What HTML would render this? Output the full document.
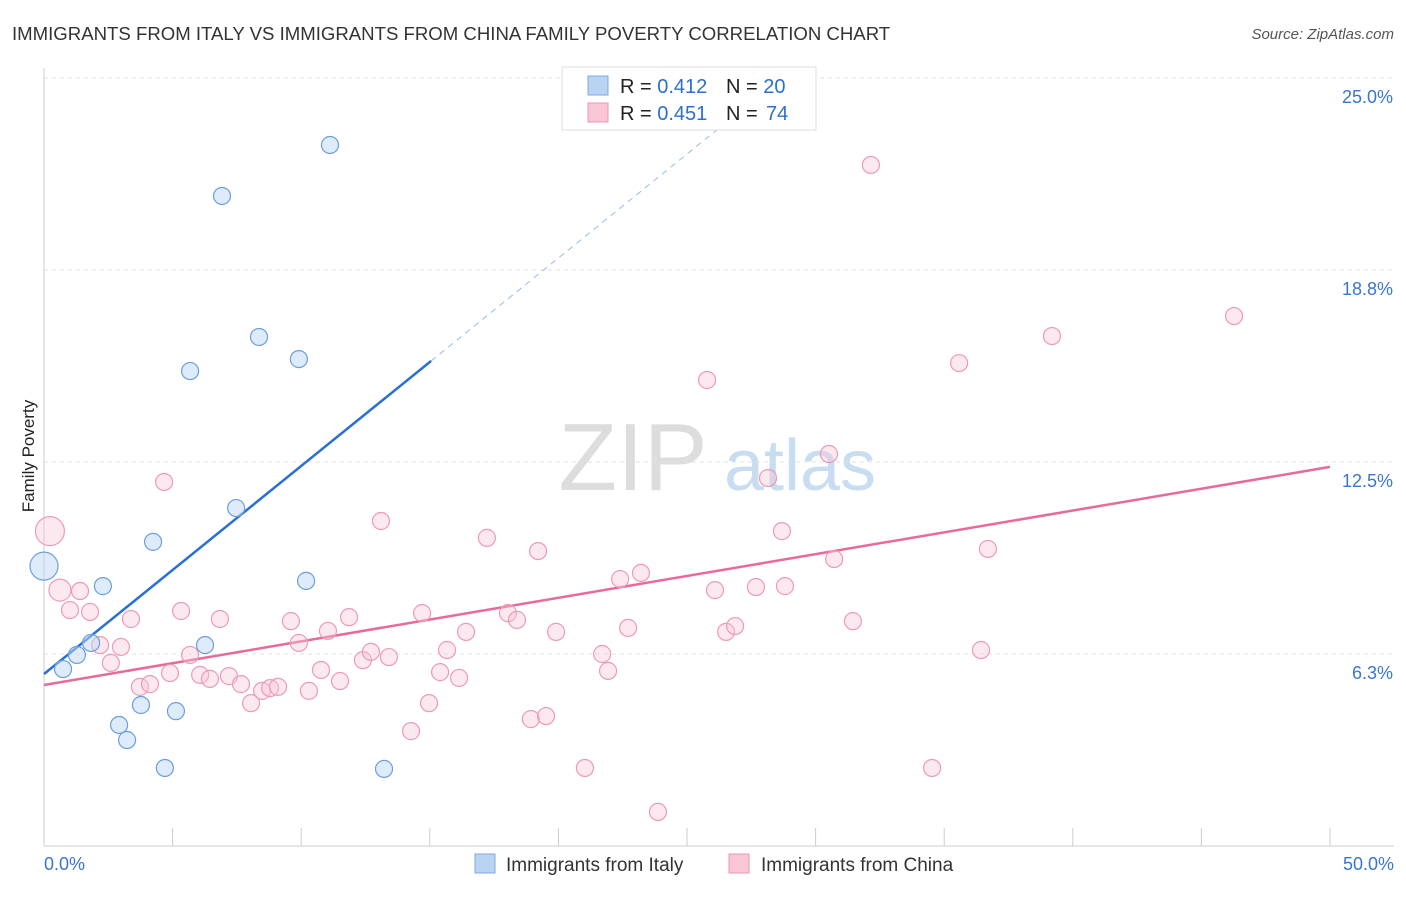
<!DOCTYPE html>
<html><head><meta charset="utf-8"><style>
body{margin:0;background:#fff;font-family:"Liberation Sans",sans-serif;}
svg text{font-family:"Liberation Sans",sans-serif;}
</style></head><body>
<svg id="chart" width="1406" height="892" viewBox="0 0 1406 892" xmlns="http://www.w3.org/2000/svg">
<text x="12" y="40" font-size="18.6" fill="#333">IMMIGRANTS FROM ITALY VS IMMIGRANTS FROM CHINA FAMILY POVERTY CORRELATION CHART</text>
<text x="1394" y="39" font-size="15" fill="#555" text-anchor="end" font-style="italic">Source: ZipAtlas.com</text>
<text x="34" y="456" font-size="17" fill="#222" text-anchor="middle" transform="rotate(-90 34 456)">Family Poverty</text>
<g><text x="633" y="490" font-size="96" fill="#ddd" text-anchor="middle" font-family="Liberation Serif,serif">ZIP</text><text x="800" y="490" font-size="72" fill="#c8dcf2" text-anchor="middle">atlas</text></g>
<g id="grid"></g><g id="axes"></g><g id="trends"></g><g id="pts"></g>
<g>
<rect x="562" y="67" width="254" height="63" fill="#fff" stroke="#ddd"/>
<rect x="588" y="76" width="20" height="19" fill="#b9d3f3" stroke="#7ea9e0"/>
<rect x="588" y="103" width="20" height="19" fill="#f8c6d5" stroke="#ee96b1"/>
<text y="93" font-size="20" fill="#222"><tspan x="620">R = </tspan><tspan fill="#2c6fd1">0.412</tspan><tspan x="726">N = </tspan><tspan fill="#2c6fd1">20</tspan></text>
<text y="120" font-size="20" fill="#222"><tspan x="620">R = </tspan><tspan fill="#2c6fd1">0.451</tspan><tspan x="726">N = </tspan><tspan x="766" fill="#2c6fd1">74</tspan></text>
</g>
<g>
<rect x="475" y="854" width="20" height="19" fill="#b9d3f3" stroke="#7ea9e0"/>
<text x="506" y="871" font-size="19" fill="#333">Immigrants from Italy</text>
<rect x="729" y="854" width="20" height="19" fill="#f8c6d5" stroke="#ee96b1"/>
<text x="761" y="871" font-size="19" fill="#333">Immigrants from China</text>
</g>
</svg>
<script>
const yTicks=[6.25,12.5,18.75,25];
const yTickLabels=["6.3%","12.5%","18.8%","25.0%"];
const xTickLabels=["0.0%","50.0%"];
const italyX=[0,0.74,1.28,1.83,2.29,2.92,3.23,3.77,4.24,4.70,5.13,5.68,6.26,6.92,7.47,8.36,9.91,10.19,11.12,13.22];
const italyY=[9.11,5.76,6.22,6.61,8.46,3.94,3.45,4.59,9.90,2.54,4.39,15.46,6.54,21.16,11.00,16.57,15.85,8.63,22.82,2.51];
const chinaX=[0.23,0.62,1.01,1.40,1.79,2.18,2.60,2.99,3.38,3.73,4.12,4.67,4.90,5.33,5.68,6.07,6.45,6.84,7.19,7.66,8.05,8.48,8.79,9.10,9.60,9.91,10.30,10.77,11.04,11.51,11.86,12.40,12.71,13.41,13.10,14.27,14.70,14.97,15.40,15.67,16.14,16.41,17.22,18.04,18.39,18.93,19.21,19.52,19.91,21.03,21.70,21.93,22.40,22.71,23.21,23.87,25.78,26.09,26.52,26.87,27.68,28.15,28.69,28.81,30.52,30.72,31.45,32.15,34.53,35.58,36.43,36.70,39.19,46.27];
const chinaY=[10.25,8.33,7.68,8.30,7.62,6.54,5.96,6.48,7.39,5.18,5.27,11.85,5.63,7.65,6.22,5.57,5.44,7.39,5.53,5.27,4.65,5.05,5.14,5.18,7.32,6.61,5.05,5.73,7.00,5.37,7.45,6.05,6.32,6.15,10.58,3.74,7.58,4.65,5.66,6.38,5.47,6.97,10.03,7.58,7.36,4.13,9.60,4.23,6.97,2.54,6.25,5.70,8.69,7.10,8.89,1.11,15.17,8.33,6.97,7.16,8.43,11.98,10.25,8.46,12.76,9.34,7.32,22.17,2.54,15.72,6.38,9.67,16.60,17.25];
const italyTrend=[5.60,0.677];
const chinaTrend=[5.24,0.142];
const NS="http://www.w3.org/2000/svg";
const X=v=>44+v*25.72, Y=v=>846-v*30.72;
function mk(tag,attrs,parent){const e=document.createElementNS(NS,tag);for(const k in attrs)e.setAttribute(k,attrs[k]);document.getElementById(parent).appendChild(e);return e;}
yTicks.forEach((t,i)=>{
 const g=mk('line',{x1:44,x2:1394,y1:Y(t),y2:Y(t),stroke:'#e2e2e2','stroke-dasharray':'4,4'},'grid');
 
 
 const l=mk('text',{x:1393,y:Y(t)+25,'font-size':18,fill:'#3a75d0','text-anchor':'end'},'grid');
 l.textContent=yTickLabels[i];
 
 
});
const ax=mk('line',{x1:44,x2:1394,y1:846,y2:846,stroke:'#ccc'},'axes');


const ay=mk('line',{x1:44,x2:44,y1:68,y2:846,stroke:'#ccc'},'axes');


for(let i=0;i<=10;i++){const t=mk('line',{x1:X(i*5),x2:X(i*5),y1:828,y2:846,stroke:'#ccc'},'axes');
 
 }
[[0,'start',44],[50,'end',1394]].forEach((d,i)=>{const t=mk('text',{x:d[2],y:870,'font-size':18,fill:'#3a75d0','text-anchor':d[1]},'axes');t.textContent=xTickLabels[i];
 
 });
const it1=mk('line',{x1:X(0),y1:Y(italyTrend[0]),x2:X(15.05),y2:Y(italyTrend[0]+italyTrend[1]*15.05),stroke:'#2a6fd6','stroke-width':2.5},'trends');


const it2=mk('line',{x1:X(15.05),y1:Y(italyTrend[0]+italyTrend[1]*15.05),x2:X(27.6),y2:Y(italyTrend[0]+italyTrend[1]*27.6),stroke:'#9bbbe6','stroke-width':1,'stroke-dasharray':'6,5'},'trends');


const ct=mk('line',{x1:X(0),y1:Y(chinaTrend[0]),x2:X(50),y2:Y(chinaTrend[0]+chinaTrend[1]*50),stroke:'#e8699a','stroke-width':2.5},'trends');


chinaX.forEach((x,i)=>{const r=i==0?14.5:(i==1?11:8.5);
 const c=mk('circle',{cx:X(x),cy:Y(chinaY[i]),r:r,fill:'rgba(248,198,214,0.4)',stroke:'#ee9ab4','stroke-width':1.2},'pts');
 
 });
italyX.forEach((x,i)=>{const r=i==0?14:8.5;
 const c=mk('circle',{cx:X(x),cy:Y(italyY[i]),r:r,fill:'rgba(190,215,245,0.5)',stroke:'#6d9edb','stroke-width':1.2},'pts');
 
 });
</script>
</body></html>
